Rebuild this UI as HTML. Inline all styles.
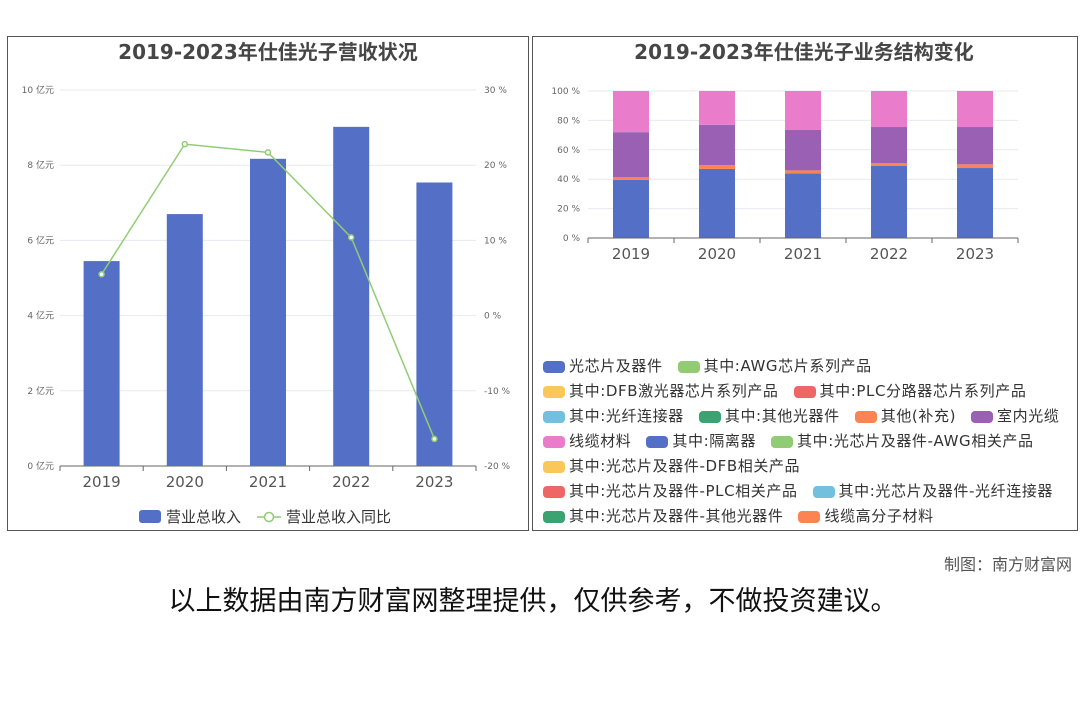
<!DOCTYPE html>
<html><head><meta charset="utf-8"><style>
body{margin:0;width:1080px;height:720px;background:#fff;position:relative;overflow:hidden;font-family:"DejaVu Sans","Noto Sans CJK SC",sans-serif}
.panel{position:absolute;border:1px solid #555;box-sizing:border-box}
.leg{position:absolute;left:543px;font-size:15px;color:#333;white-space:nowrap;letter-spacing:0.6px}
.leg>div{height:25px;line-height:25px}
.it{display:inline-flex;align-items:center;margin-right:15px}
.sw{display:inline-block;width:22px;height:12px;border-radius:4px;margin-right:4px}
</style></head><body>
<div class="panel" style="left:7px;top:36px;width:522px;height:495px"></div>
<div class="panel" style="left:532px;top:36px;width:546px;height:495px"></div>
<svg id="c1" width="1080" height="720" style="position:absolute;left:0;top:0" font-family="DejaVu Sans, Noto Sans CJK SC, sans-serif"></svg>
<div class="leg" style="top:354px" id="leg"></div>
<div style="position:absolute;right:8px;top:551px;font-size:16px;color:#555">制图：南方财富网</div>
<div style="position:absolute;left:0;width:1066px;text-align:center;top:579px;font-size:27px;color:#111;font-family:'Noto Sans CJK SC',sans-serif">以上数据由南方财富网整理提供，仅供参考，不做投资建议。</div>
<script>
const years=["2019","2020","2021","2022","2023"];
const revenue=[5.45,6.7,8.17,9.02,7.54];
const growth=[5.5,22.8,21.7,10.4,-16.4];
const leftTicks=[0,2,4,6,8,10];
const rightTicks=[-20,-10,0,10,20,30];
const segChip=[39.5,47,44,49,47.6];
const segOther=[2,2.5,2,2,2.5];
const segIndoor=[30.5,27.5,27.5,24.5,25.4];
const segCable=[28,23,26.5,24.5,24.5];
const pctTicks=[0,20,40,60,80,100];
const NS="http://www.w3.org/2000/svg";
const svg=document.getElementById('c1');
function el(t,a,p){const e=document.createElementNS(NS,t);for(const k in a)e.setAttribute(k,a[k]);(p||svg).appendChild(e);return e;}
function tx(x,y,s,a){const e=el('text',Object.assign({x:x,y:y},a));e.textContent=s;return e;}
let t=tx(268,59,"2019-2023年仕佳光子营收状况",{"text-anchor":"middle","font-size":20,"font-weight":"bold",fill:"#464646"});

t=tx(804,59,"2019-2023年仕佳光子业务结构变化",{"text-anchor":"middle","font-size":20,"font-weight":"bold",fill:"#464646"});

const L0=60,L1=476,T=90,B=466;
const yL=v=>B-(v/10)*(B-T), yR=v=>B-((v+20)/50)*(B-T);
const bw=(L1-L0)/years.length, xc=i=>L0+bw*(i+0.5);
leftTicks.forEach(v=>{el('line',{x1:L0,x2:L1,y1:yL(v),y2:yL(v),stroke:"#e6e9ef"});
 const e=tx(L0-6,yL(v)+3,v+" 亿元",{"text-anchor":"end","font-size":9,fill:"#666"});});
rightTicks.forEach(v=>{const e=tx(L1+8,yR(v)+3,v+" %",{"font-size":9,fill:"#666"});});
el('line',{x1:L0,x2:L1,y1:B,y2:B,stroke:"#666"});
years.forEach((y,i)=>{el('line',{x1:L0+bw*i,x2:L0+bw*i,y1:B,y2:B+5,stroke:"#666"});
 const e=tx(xc(i),B+21,y,{"text-anchor":"middle","font-size":15,fill:"#555"});
 const r=el('rect',{x:xc(i)-18,y:yL(revenue[i]),width:36,height:B-yL(revenue[i]),fill:"#5470c6"});
 });
el('line',{x1:L1,x2:L1,y1:B,y2:B+5,stroke:"#666"});
el('polyline',{points:growth.map((g,i)=>xc(i)+","+yR(g)).join(" "),fill:"none",stroke:"#91cc75","stroke-width":1.5});
growth.forEach((g,i)=>{const c=el('circle',{cx:xc(i),cy:yR(g),r:2.5,fill:"#fff",stroke:"#91cc75","stroke-width":1.5});
 });
let r=el('rect',{x:139,y:510,width:22,height:13,rx:3,fill:"#5470c6"});
tx(166,522,"营业总收入",{"font-size":15,fill:"#333"});
el('line',{x1:257,x2:281,y1:517,y2:517,stroke:"#91cc75","stroke-width":1.5});
r=el('circle',{cx:269,cy:517,r:4.5,fill:"#fff",stroke:"#91cc75","stroke-width":1.5});
tx(286,522,"营业总收入同比",{"font-size":15,fill:"#333"});
const R0=588,R1=1018,RT=91,RB=238;
const yP=v=>RB-(v/100)*(RB-RT);
const rbw=(R1-R0)/years.length, rx=i=>R0+rbw*(i+0.5);
pctTicks.forEach(v=>{el('line',{x1:R0,x2:R1,y1:yP(v),y2:yP(v),stroke:"#e6e9ef"});
 const e=tx(R0-8,yP(v)+3,v+" %",{"text-anchor":"end","font-size":9,fill:"#666"});});
const series=[[segChip,"#5470c6"],[segOther,"#fc8452"],[segIndoor,"#9a60b4"],[segCable,"#ea7ccc"]];
years.forEach((y,i)=>{let acc=0;
 series.forEach(([arr,col],k)=>{const v=arr[i];const rr=el('rect',{x:rx(i)-18,y:yP(acc+v),width:36,height:yP(acc)-yP(acc+v),fill:col});
  acc+=v;});
 el('line',{x1:R0+rbw*i,x2:R0+rbw*i,y1:RB,y2:RB+5,stroke:"#666"});
 const e=tx(rx(i),RB+21,y,{"text-anchor":"middle","font-size":15,fill:"#555"});});
el('line',{x1:R0,x2:R1,y1:RB,y2:RB,stroke:"#666"});el('line',{x1:R1,x2:R1,y1:RB,y2:RB+5,stroke:"#666"});
const rows=[[["光芯片及器件","#5470c6"],["其中:AWG芯片系列产品","#91cc75"]],
[["其中:DFB激光器芯片系列产品","#fac858"],["其中:PLC分路器芯片系列产品","#ee6666"]],
[["其中:光纤连接器","#73c0de"],["其中:其他光器件","#3ba272"],["其他(补充)","#fc8452"],["室内光缆","#9a60b4"]],
[["线缆材料","#ea7ccc"],["其中:隔离器","#5470c6"],["其中:光芯片及器件-AWG相关产品","#91cc75"]],
[["其中:光芯片及器件-DFB相关产品","#fac858"]],
[["其中:光芯片及器件-PLC相关产品","#ee6666"],["其中:光芯片及器件-光纤连接器","#73c0de"]],
[["其中:光芯片及器件-其他光器件","#3ba272"],["线缆高分子材料","#fc8452"]]];
const leg=document.getElementById('leg');
rows.forEach(row=>{const d=document.createElement('div');
 row.forEach(([n,c])=>{const s=document.createElement('span');s.className='it';
  
  
  s.innerHTML='<span class="sw" style="background:'+c+'"></span>'+n;d.appendChild(s);});
 leg.appendChild(d);});
</script>
</body></html>
